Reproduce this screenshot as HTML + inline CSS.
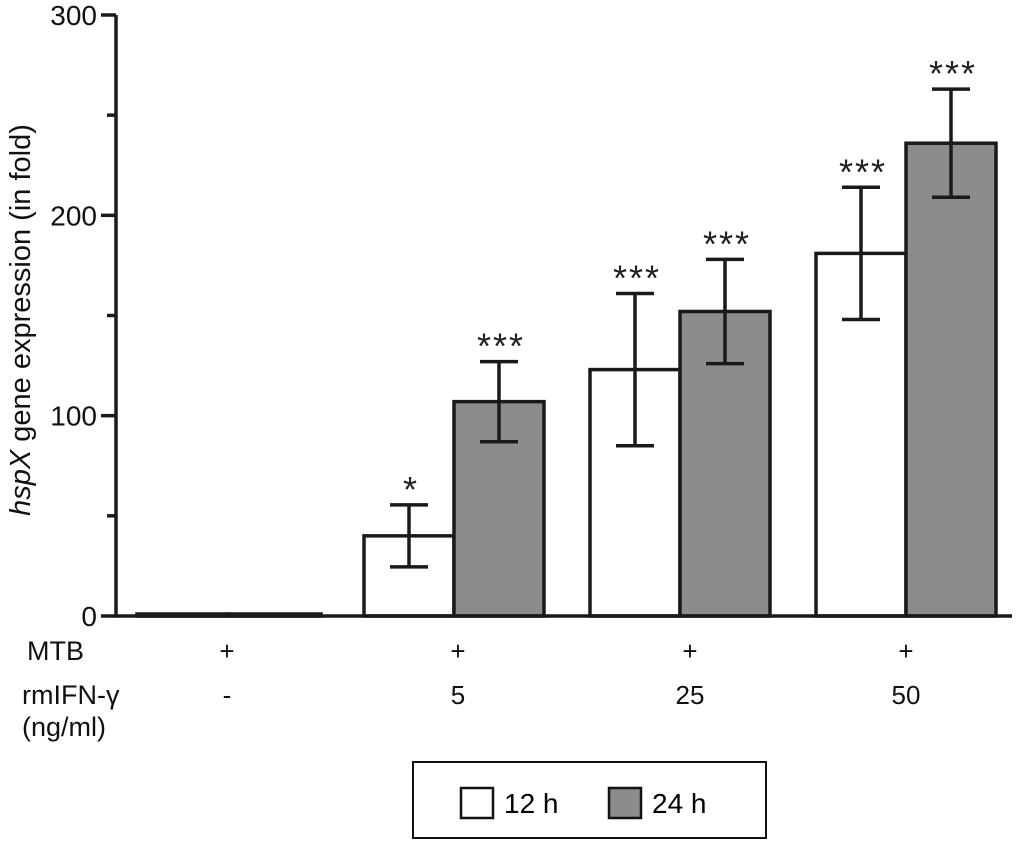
<!DOCTYPE html>
<html><head><meta charset="utf-8"><style>
body{margin:0;background:#fff}
svg{display:block;font-family:"Liberation Sans",sans-serif}
</style></head><body>
<svg width="1024" height="841" viewBox="0 0 1024 841">
<g id="chart"></g>
<g id="labels" font-size="27" fill="#111">
  <text x="27" y="660">MTB</text>
  <text x="22" y="704">rmIFN-γ</text>
  <text x="22" y="736">(ng/ml)</text>
  <text transform="translate(30,320) rotate(-90)" text-anchor="middle" font-size="29"><tspan font-style="italic">hspX</tspan> gene expression (in fold)</text>
</g>
<g>
  <rect x="413" y="762" width="353" height="76" fill="#fff" stroke="#111" stroke-width="2"/>
  <rect x="461" y="788" width="32" height="30" fill="#fff" stroke="#111" stroke-width="2.5"/>
  <text x="504" y="813" font-size="28">12 h</text>
  <rect x="609" y="788" width="32" height="30" fill="#8c8c8c" stroke="#111" stroke-width="2.5"/>
  <text x="652" y="813" font-size="28">24 h</text>
</g>
</svg>
<script>
const categories = ["ctrl","5","25","50"];
const mtbLabels = ["+","+","+","+"];
const ifnLabels = ["-","5","25","50"];
const values12 = [1,40,123,181];
const err12 = [0,15.5,38,33];
const values24 = [1,107,152,236];
const err24 = [0,20,26,27];
const sig12 = ["","*","***","***"];
const sig24 = ["","***","***","***"];
const yTicks = [0,100,200,300];
const yMinor = [50,150,250];

const NS="http://www.w3.org/2000/svg";
const g=document.getElementById('chart');
const y0=616, yTop=15, yMax=300, axisX=116;
const y=v=>y0-(v/yMax)*(y0-yTop);
const groupX=[137,364,590,816], barW=[92,90,90,90];
const labelShift=[-2,4,10,0];
function el(t,a){const e=document.createElementNS(NS,t);for(const k in a)e.setAttribute(k,a[k]);g.appendChild(e);return e;}
categories.forEach((c,i)=>{
  const x1=groupX[i], w=barW[i];
  [[values12,err12,sig12,"#fff",x1,'12h'],[values24,err24,sig24,"#8c8c8c",x1+w,'24h']].forEach(([vals,errs,sigs,fill,x,s])=>{
    const b=el('rect',{x:x,y:y(vals[i]),width:w,height:y0-y(vals[i]),fill:fill,stroke:'#1a1a1a','stroke-width':3.5});
    
    
    if(errs[i]>0){
      const cx=x+w/2, hi=y(vals[i]+errs[i]), lo=y(vals[i]-errs[i]);
      const p=el('path',{d:`M${cx-19},${hi}H${cx+19}M${cx},${hi}V${lo}M${cx-19},${lo}H${cx+19}`,stroke:'#1a1a1a','stroke-width':3.5,fill:'none'});
      
      
    }
    if(sigs[i]){
      const t=el('text',{x:x+w/2+2,y:y(vals[i]+errs[i])-3,'text-anchor':'middle','font-size':36,fill:'#222','letter-spacing':2});
      t.textContent=sigs[i];
      
      
    }
  });
  const cx=x1+w+labelShift[i];
  const m=el('text',{x:cx,y:660,'text-anchor':'middle','font-size':26,fill:'#111'});
  m.textContent=mtbLabels[i];
  
  
  const f=el('text',{x:cx,y:704,'text-anchor':'middle','font-size':26,fill:'#111'});
  f.textContent=ifnLabels[i];
  
  
});
const ax=el('path',{d:`M${axisX},${yTop}V${y0}H1012`,stroke:'#1a1a1a','stroke-width':3.5,fill:'none'});


yTicks.forEach(v=>{
  const t=el('line',{x1:101,x2:axisX,y1:y(v),y2:y(v),stroke:'#1a1a1a','stroke-width':3.5});
  
  
  const l=el('text',{x:97,y:y(v)+10,'text-anchor':'end','font-size':28,fill:'#111'});
  l.textContent=v;
  
  
});
yMinor.forEach(v=>{
  const t=el('line',{x1:107,x2:axisX,y1:y(v),y2:y(v),stroke:'#1a1a1a','stroke-width':3.5});
  
  
});
</script>
</body></html>
